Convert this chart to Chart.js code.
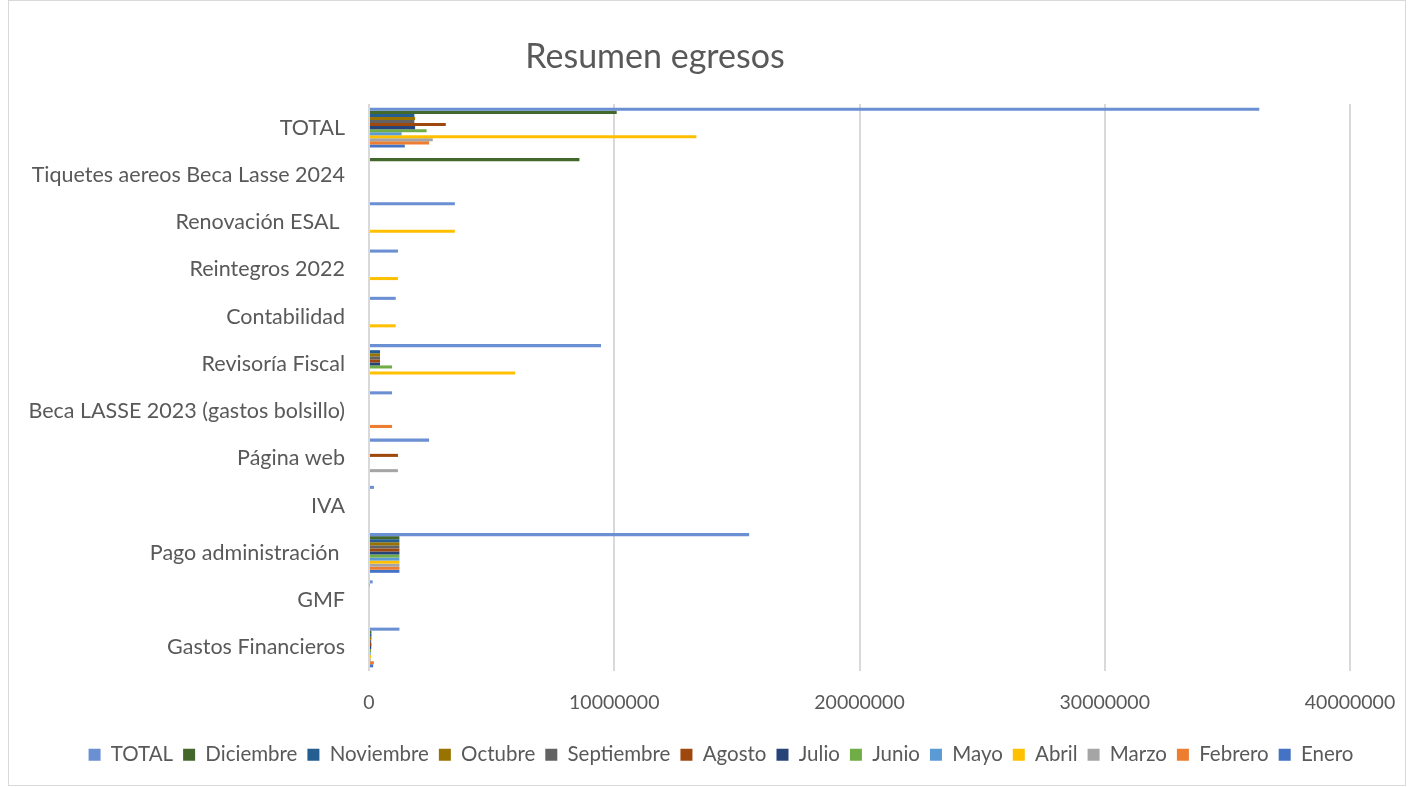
<!DOCTYPE html>
<html lang="es">
<head>
    <meta charset="UTF-8">
    <script src="https://cdn.jsdelivr.net/npm/chart.js"></script>
    <title>Resumen egresos</title>
    <style>
        body { margin: 0; background: #fff; }
        #box { position: absolute; left: 8px; top: 0; width: 1396px; height: 784px; border: 1px solid #d9d9d9; }
        #titulo { position: absolute; left: 0; width: 1310px; top: 34px; text-align: center;
                  font-family: Lato, sans-serif; font-size: 34px; color: #595959; }
    </style>
    <script>
        // categorias (de arriba hacia abajo)
        let categorias = ["TOTAL", "Tiquetes aereos Beca Lasse 2024", "Renovación ESAL ", "Reintegros 2022",
            "Contabilidad", "Revisoría Fiscal", "Beca LASSE 2023 (gastos bolsillo)", "Página web", "IVA",
            "Pago administración ", "GMF", "Gastos Financieros"];

        let total      = [36300000, 0, 3500000, 1180000, 1090000, 9460000, 940000, 2450000, 200000, 15500000, 150000, 1240000];
        let diciembre  = [10100000, 8580000, 0, 0, 0, 0, 0, 0, 40000, 1240000, 30000, 100000];
        let noviembre  = [1850000, 0, 0, 0, 0, 450000, 0, 0, 0, 1240000, 0, 100000];
        let octubre    = [1880000, 0, 0, 0, 0, 450000, 0, 0, 0, 1240000, 0, 100000];
        let septiembre = [1850000, 0, 0, 0, 0, 450000, 0, 0, 0, 1240000, 0, 90000];
        let agosto     = [3130000, 0, 0, 0, 0, 450000, 0, 1180000, 0, 1240000, 0, 100000];
        let julio      = [1880000, 0, 0, 0, 0, 450000, 0, 0, 0, 1240000, 0, 90000];
        let junio      = [2350000, 0, 0, 0, 0, 940000, 0, 0, 0, 1240000, 0, 80000];
        let mayo       = [1330000, 0, 0, 0, 0, 0, 0, 0, 0, 1240000, 0, 70000];
        let abril      = [13350000, 0, 3500000, 1180000, 1090000, 5960000, 0, 0, 0, 1240000, 0, 80000];
        let marzo      = [2600000, 0, 0, 0, 0, 0, 0, 1180000, 0, 1240000, 0, 70000];
        let febrero    = [2450000, 0, 0, 0, 0, 0, 940000, 0, 0, 1240000, 0, 200000];
        let enero      = [1460000, 0, 0, 0, 0, 0, 0, 0, 0, 1240000, 0, 170000];

        let series = [
            ["TOTAL", total, "#6a8fd3"],
            ["Diciembre", diciembre, "#43682b"],
            ["Noviembre", noviembre, "#255e91"],
            ["Octubre", octubre, "#997300"],
            ["Septiembre", septiembre, "#636363"],
            ["Agosto", agosto, "#9e480e"],
            ["Julio", julio, "#264478"],
            ["Junio", junio, "#70ad47"],
            ["Mayo", mayo, "#5b9bd5"],
            ["Abril", abril, "#ffc000"],
            ["Marzo", marzo, "#a5a5a5"],
            ["Febrero", febrero, "#ed7d31"],
            ["Enero", enero, "#4472c4"]
        ];

        // corre la leyenda un poco a la derecha, como en el original
        const moverLeyenda = {
            id: 'moverLeyenda',
            afterLayout: function (chart) {
                chart.legend.left += 14;
                chart.legend.right += 14;
            }
        };

        window.onload = function () {
            Chart.defaults.font.family = "Lato, sans-serif";
            Chart.defaults.color = "#595959";
            let ctx = document.getElementById("myChart");
            let datasets = [];
            for (let s of series) {
                datasets.push({ label: s[0], data: s[1], backgroundColor: s[2], borderWidth: 0 });
            }
            new Chart(ctx, {
                type: 'bar',
                data: { labels: categorias, datasets: datasets },
                plugins: [moverLeyenda],
                options: {
                    indexAxis: 'y',
                    responsive: true,
                    maintainAspectRatio: false,
                    animation: false,
                    categoryPercentage: 0.84,
                    barPercentage: 1.0,
                    layout: { padding: { top: 103, right: 0, bottom: 10, left: 0 } },
                    plugins: {
                        tooltip: { enabled: false },
                        legend: {
                            position: 'bottom',
                            labels: { boxWidth: 12, boxHeight: 12, padding: 10, font: { size: 20.5 }, color: "#595959" }
                        }
                    },
                    scales: {
                        x: {
                            min: 0, max: 40000000,
                            ticks: { stepSize: 10000000, padding: 20, font: { size: 19.5 },
                                     callback: function (v) { return String(v); } },
                            grid: { color: "#d9d9d9", lineWidth: 2, drawTicks: false },
                            border: { display: false },
                            afterFit: function (scale) { scale.paddingRight = 55; }
                        },
                        y: {
                            ticks: { padding: 24, font: { size: 21.5 } },
                            grid: { display: false, drawTicks: false },
                            border: { display: false },
                            afterFit: function (scale) { scale.width = 360; }
                        }
                    }
                }
            });
        };
    </script>
</head>
<body>
    <div id="box"><canvas id="myChart"></canvas></div>
    <div id="titulo">Resumen egresos</div>
</body>
</html>
